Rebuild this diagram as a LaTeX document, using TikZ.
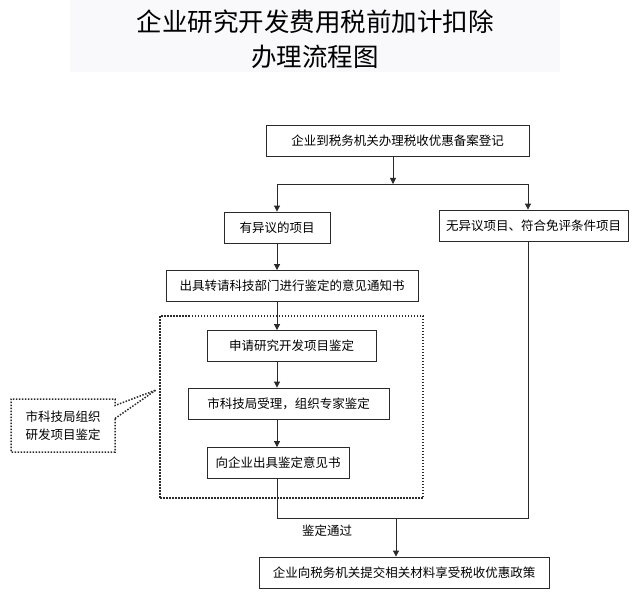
\documentclass[tikz,border=0pt]{standalone}
\usepackage{fontspec}
\newfontfamily\cjk{Noto Sans CJK SC}
\usepackage{tikz}
\usetikzlibrary{ arrows.meta, positioning, shapes.callouts }
\definecolor{titlebg}{HTML}{F9F9FB}
\definecolor{linecol}{HTML}{2A2A2A}
\tikzset{
>={Triangle[length=6pt,width=6pt]}, % small filled arrow heads
every node/.style={inner sep=1pt},
box/.style={draw=linecol, line width=0.8pt, minimum height=31pt,
  font=\cjk\fontsize{12.5}{15}\selectfont}, % one step of the procedure
dots/.style={draw=linecol, line width=1.5pt, dash pattern=on 1.5pt off 1.5pt}, % dotted frames
}

\begin{document}
\begin{tikzpicture}[x=1pt, y=-1pt, line width=0.8pt, draw=linecol]
  \useasboundingbox (0,0) rectangle (640,607);

  % Title ---------------------------------------------
  \fill[titlebg] (70,0) rectangle (560,72);
  \node[align=center, font=\cjk\fontsize{25.5}{35}\selectfont] (title) at (315,39.5)
    {企业研究开发费用税前加计扣除\\办理流程图};

  % Steps ---------------------------------------------
  \node[box, minimum width=263pt] (reg) at (397.5,140.5) {企业到税务机关办理税收优惠备案登记};
  \node[box, minimum width=106pt] (obj) at (277,227.5) {有异议的项目};
  \node[box, minimum width=189pt] (noobj) at (533.5,225.5) {无异议项目、符合免评条件项目};
  \node[box, minimum width=252pt] (notice) at (292,286) {出具转请科技部门进行鉴定的意见通知书};

  % Appraisal by the city bureau (dotted frame)
  \node[dots, minimum width=263pt, minimum height=182pt] (panel) at (291.5,407) {};
  \node[box, minimum width=169pt] (apply) at (291.5,346) {申请研究开发项目鉴定};
  \node[box, minimum width=201pt] (accept) at (288.5,403.5) {市科技局受理，组织专家鉴定};
  \node[box, minimum width=142pt] (opinion) at (278,463) {向企业出具鉴定意见书};
  \node[dots, rectangle callout, callout absolute pointer={(156,390)},
    callout pointer width=13pt, minimum width=104pt, minimum height=53pt,
    align=left, font=\cjk\fontsize{12.5}{18}\selectfont] (note) at (63,425.5)
    {市科技局组织\\研发项目鉴定};

  \node[box, minimum width=290pt] (enjoy) at (404,572.5) {企业向税务机关提交相关材料享受税收优惠政策};

  % Routing points
  \coordinate (split) at (393,184);
  \coordinate (join) at (396,518);
  \coordinate (rcol) at ([xshift=-5.5pt]noobj.south);
  \node[font=\cjk\fontsize{12.5}{15}\selectfont] (passed) at (327,531) {鉴定通过};

  \draw[->] (reg.south -| split) -- (split);
  \draw[->] (split) -| (obj.north);
  \draw[->] (split) -| (rcol |- noobj.north);
  \draw[->] (obj) -- (obj |- notice.north);
  \draw[->] (obj |- notice.south) -- (obj |- apply.north);
  \draw[->] (obj |- apply.south) -- (obj |- accept.north);
  \draw[->] (obj |- accept.south) -- (obj |- opinion.north);
  \draw (obj |- opinion.south) |- (join -| rcol) -- (rcol);
  \draw[->] (join) -- (join |- enjoy.north);
\end{tikzpicture}
\end{document}
